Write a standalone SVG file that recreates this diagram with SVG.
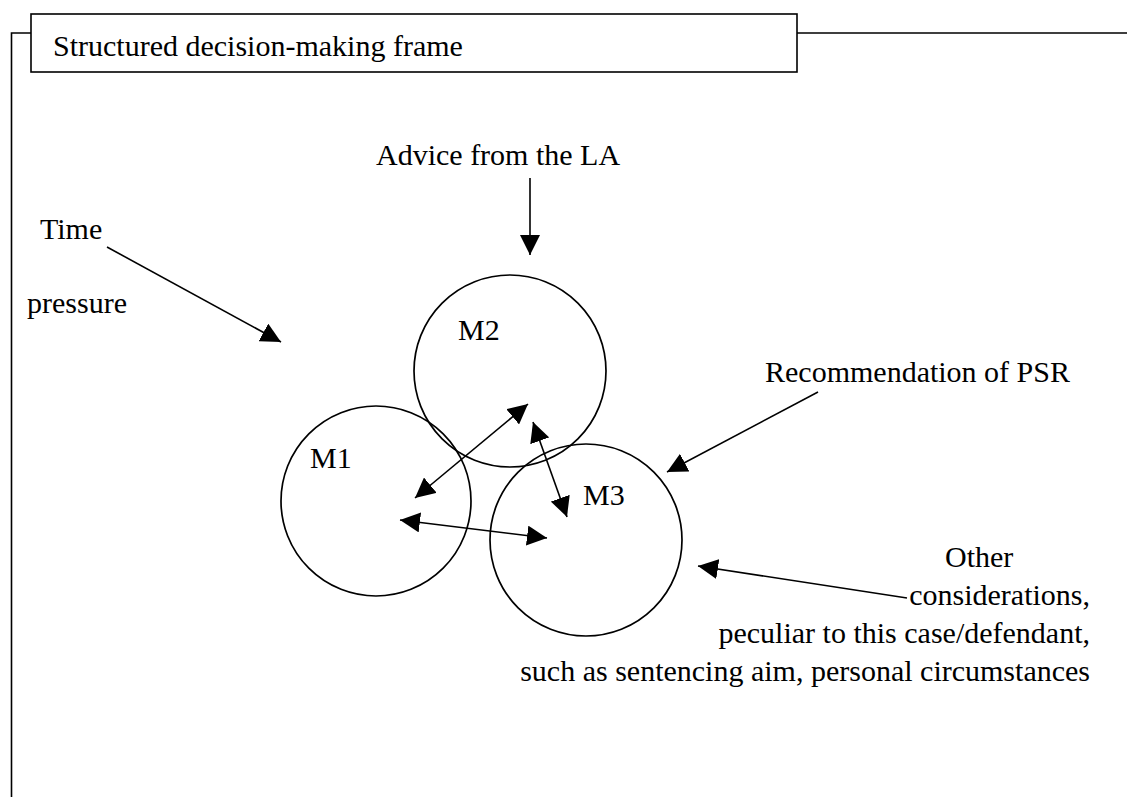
<svg xmlns="http://www.w3.org/2000/svg" width="1127" height="797" viewBox="0 0 1127 797">
<style>
text{font-family:"Liberation Serif","Times New Roman",serif;font-size:30px;fill:#000}
.ln{stroke:#000;stroke-width:1.6;fill:none}
.c{stroke:#000;stroke-width:1.7;fill:none}
</style>
<defs>
<marker id="ah" viewBox="0 0 20 20" refX="20" refY="10" markerWidth="20" markerHeight="20" markerUnits="userSpaceOnUse" orient="auto-start-reverse">
<path d="M0,0 L20,10 L0,20 z" fill="#000"/>
</marker>
</defs>
<rect width="1127" height="797" fill="#fff"/>
<g id="frame">
<path class="ln" d="M1127,33 H797 M31,33 H11.5 V797"/>
<rect x="31" y="14" width="766" height="58" fill="none" stroke="#000" stroke-width="1.6"/>
<text x="53" y="56">Structured decision-making frame</text>
</g>
<g id="m1"><circle class="c" cx="376" cy="501" r="95"/><text x="310" y="468">M1</text></g>
<g id="m2"><circle class="c" cx="510" cy="371" r="96"/><text x="458" y="340">M2</text></g>
<g id="m3"><circle class="c" cx="586" cy="540" r="96"/><text x="583" y="505">M3</text></g>
<g id="advice"><text x="376" y="165">Advice from the LA</text></g>
<g id="time"><text x="40" y="239">Time</text><text x="27" y="313">pressure</text></g>
<g id="psr"><text x="765" y="382">Recommendation of PSR</text></g>
<g id="other">
<text x="945" y="567">Other</text>
<text x="1090" y="605" text-anchor="end">considerations,</text>
<text x="1090" y="643" text-anchor="end">peculiar to this case/defendant,</text>
<text x="1090" y="681" text-anchor="end">such as sentencing aim, personal circumstances</text>
</g>
<g id="connectors">
<line class="ln" x1="107" y1="247" x2="281" y2="342" marker-end="url(#ah)"/>
<line class="ln" x1="530" y1="178" x2="530" y2="255" marker-end="url(#ah)"/>
<line class="ln" x1="415" y1="498" x2="528" y2="404" marker-start="url(#ah)" marker-end="url(#ah)"/>
<line class="ln" x1="533" y1="422" x2="567" y2="517" marker-start="url(#ah)" marker-end="url(#ah)"/>
<line class="ln" x1="400" y1="520" x2="547" y2="538" marker-start="url(#ah)" marker-end="url(#ah)"/>
<line class="ln" x1="818" y1="392" x2="667" y2="472" marker-end="url(#ah)"/>
<line class="ln" x1="907" y1="598" x2="698" y2="566" marker-end="url(#ah)"/>
</g>
</svg>
